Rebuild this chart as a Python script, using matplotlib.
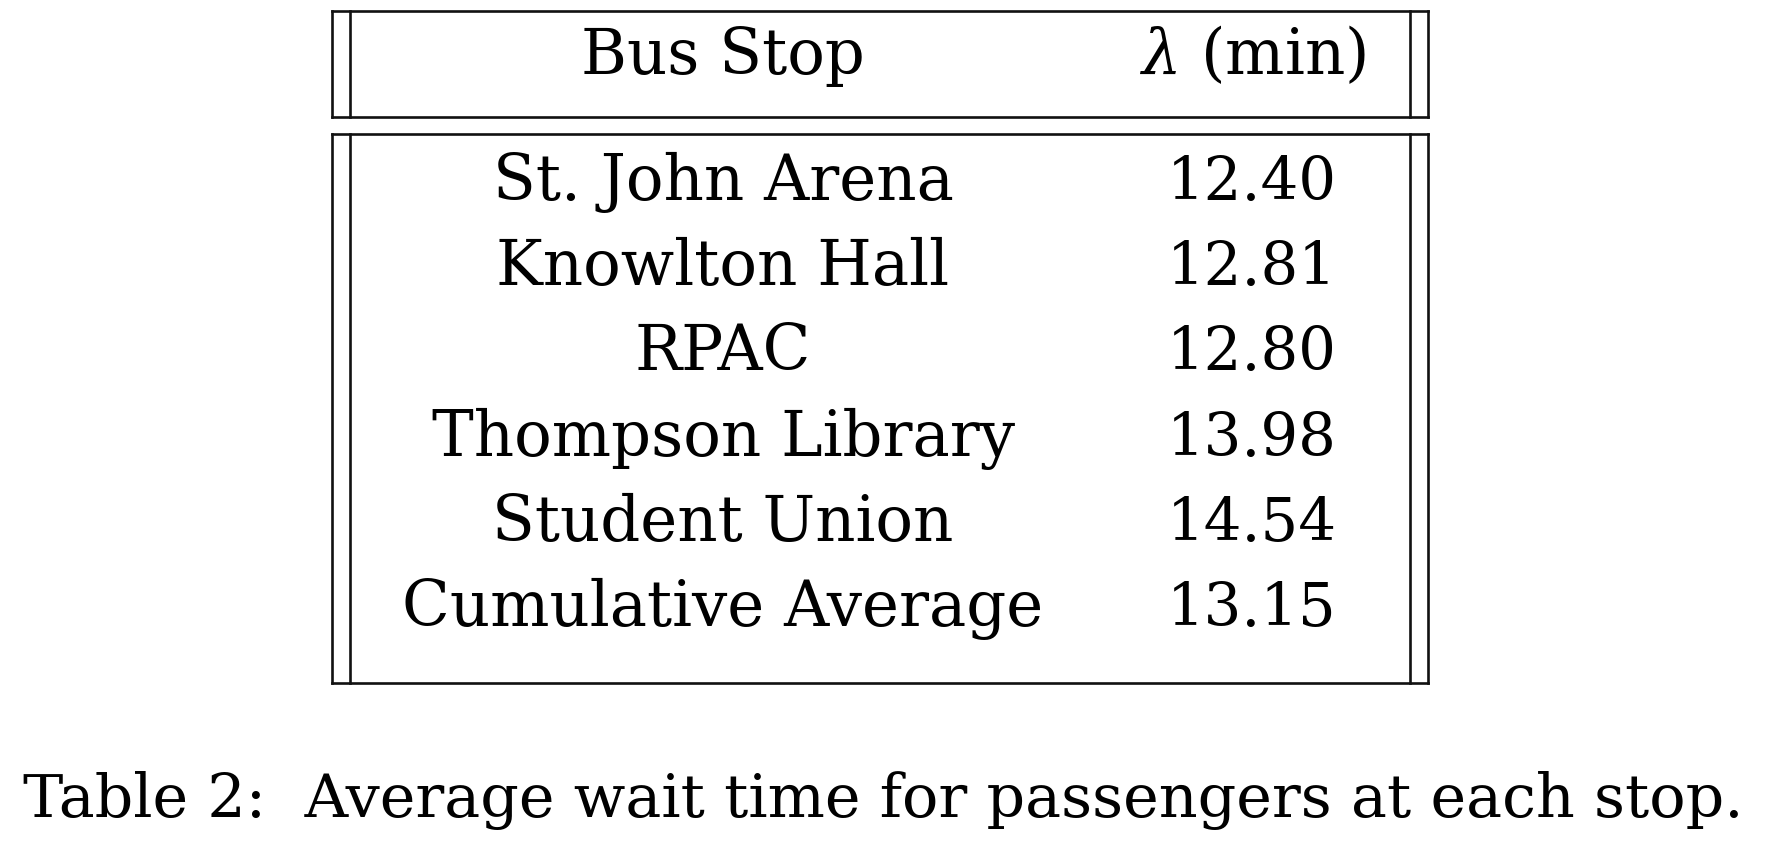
import matplotlib
matplotlib.use("Agg")
import matplotlib.pyplot as plt
from matplotlib.lines import Line2D

# ---- data ----
col_headers = ["Bus Stop", r"$\lambda$ (min)"]
bus_stops = ["St. John Arena", "Knowlton Hall", "RPAC", "Thompson Library",
             "Student Union", "Cumulative Average"]
wait_times = [12.40, 12.81, 12.80, 13.98, 14.54, 13.15]
caption = "Table 2:  Average wait time for passengers at each stop."

W, H = 1766, 854
fig = plt.figure(figsize=(W / 100, H / 100), dpi=100)
ax = fig.add_axes([0, 0, 1, 1])
ax.set_xlim(0, W)
ax.set_ylim(H, 0)
ax.axis("off")

plt.rcParams["mathtext.fontset"] = "dejavuserif"
FONT = "DejaVu Serif"
fs_table = 45
fs_cap = 48

# layout
xl_out, xl_in, xr_in, xr_out = 332, 350, 1410, 1428
head_top, head_bot = 12, 118
body_top, body_bot = 135, 684
col1_x, col2_x = 723, 1252
head_base = 74
row_base0, row_step = 200, 85.2
lw = 1.9

def hline(x0, x1, y):
    ax.add_line(Line2D([x0, x1], [y, y], color="#111111", lw=lw, solid_capstyle="projecting"))

def vline(x, y0, y1):
    ax.add_line(Line2D([x, x], [y0, y1], color="#111111", lw=lw, solid_capstyle="projecting"))

for top, bot in [(head_top, head_bot), (body_top, body_bot)]:
    hline(xl_out, xr_out, top)
    hline(xl_out, xr_out, bot)
    for x in (xl_out, xl_in, xr_in, xr_out):
        vline(x, top, bot)

ax.text(col1_x, head_base, col_headers[0], ha="center", va="baseline",
        fontsize=fs_table, family=FONT)
ax.text(col2_x, head_base, col_headers[1], ha="center", va="baseline",
        fontsize=fs_table, family=FONT)

for i, (name, val) in enumerate(zip(bus_stops, wait_times)):
    y = row_base0 + i * row_step
    ax.text(col1_x, y, name, ha="center", va="baseline", fontsize=fs_table, family=FONT)
    ax.text(col2_x, y, f"{val:.2f}", ha="center", va="baseline", fontsize=fs_table * 0.95, family=FONT)

cap = ax.text(W / 2 + 0, 817, caption, ha="center", va="baseline", fontsize=fs_cap, family=FONT)
# fit the caption width to the reference span (~1720 px)
fig.canvas.draw()
wpx = cap.get_window_extent(renderer=fig.canvas.get_renderer()).width
cap.set_fontsize(fs_cap * 1720.0 / wpx)

fig.savefig("out.png", dpi=100, facecolor="white")
